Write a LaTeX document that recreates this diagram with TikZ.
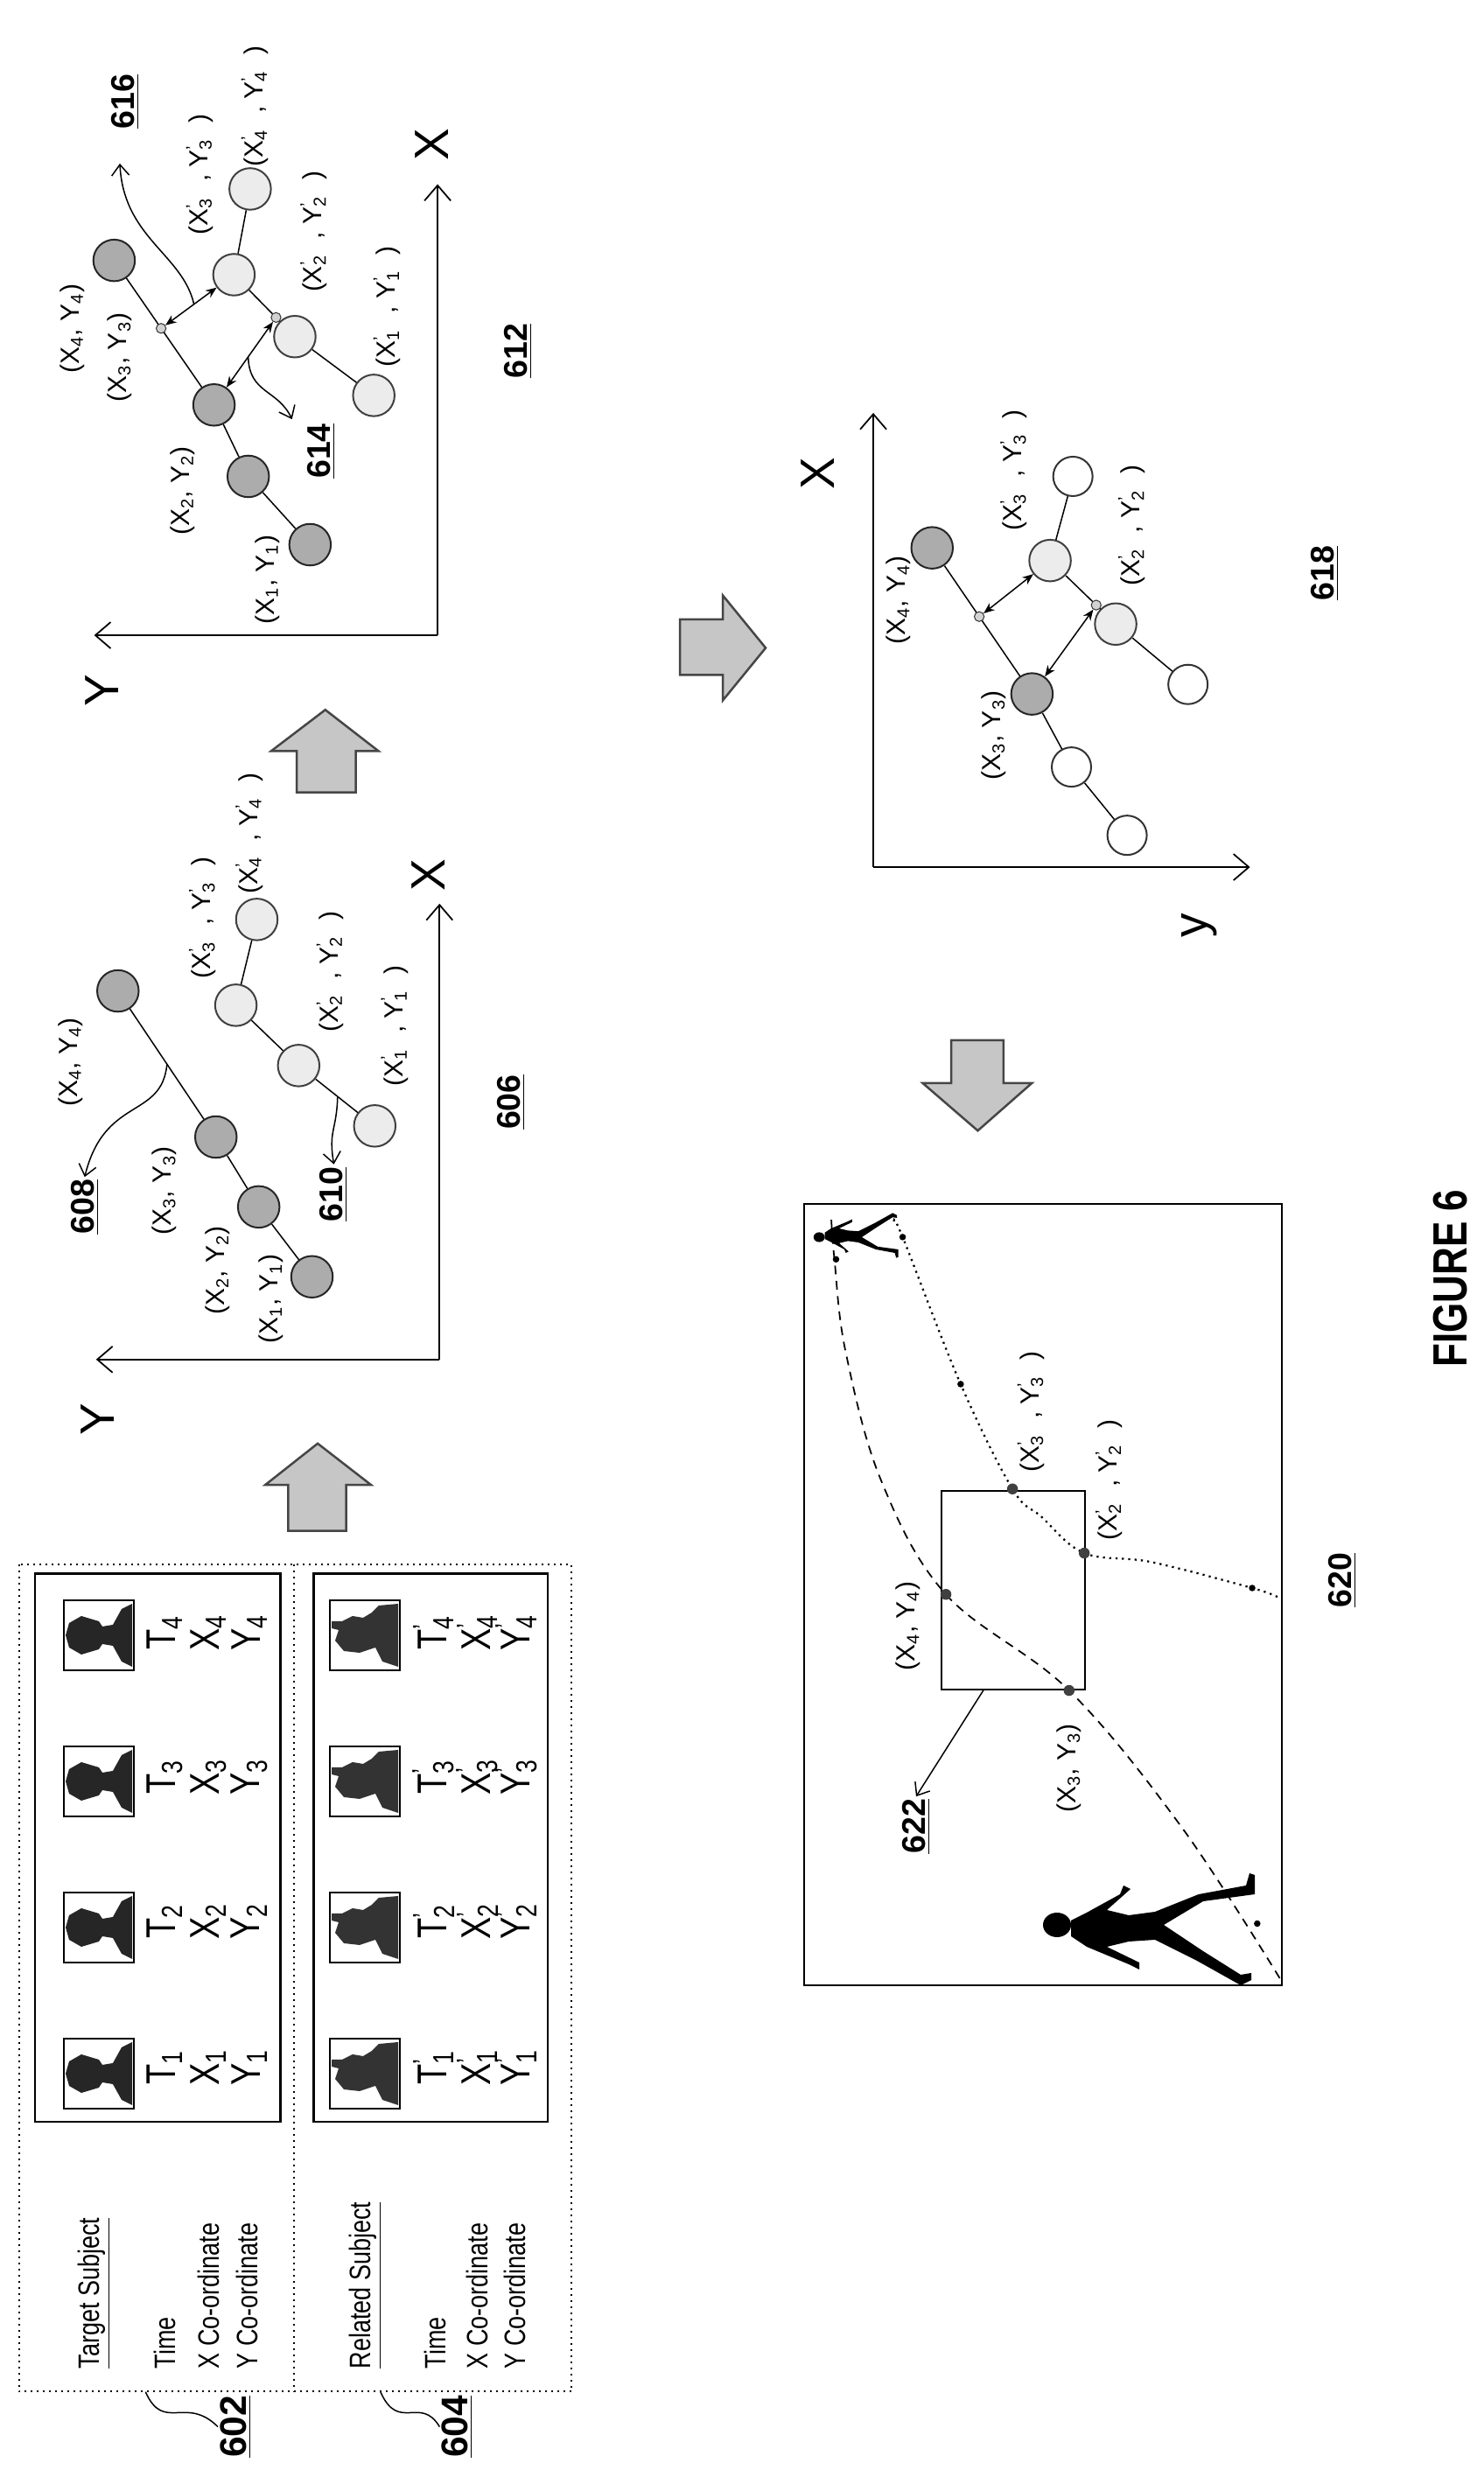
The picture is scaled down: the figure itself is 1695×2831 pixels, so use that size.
\documentclass[tikz,border=0pt]{standalone}
\usepackage{fontspec}
\setmainfont{Liberation Sans}
\newfontfamily\cond[FakeStretch=0.8]{Liberation Sans}
\usetikzlibrary{arrows.meta,calc}
\newcommand{\cpt}[1]{(X\textsubscript{#1}, Y\textsubscript{#1})}
\newcommand{\cpq}[1]{(X\rlap{\textsuperscript{’}}\textsubscript{#1}\,\, , Y\rlap{\textsuperscript{’}}\textsubscript{#1}\,\, )}
\begin{document}
\begin{tikzpicture}[x=0.4pt,y=0.4pt,
 lbl/.style={rotate=90,font=\fontsize{12}{12}\selectfont,inner sep=0pt},
 tbl/.style={rotate=90,font=\cond\fontsize{13.5}{13.5}\selectfont,inner sep=0pt,anchor=west},
 dat/.style={rotate=90,font=\cond\fontsize{19}{19}\selectfont,inner sep=0pt},
 num/.style={rotate=90,font=\bfseries\fontsize{15}{15}\selectfont,inner sep=1pt},
 axl/.style={rotate=90,font=\fontsize{22}{22}\selectfont,inner sep=0pt},
 dk/.style={circle,draw=black!85,fill=gray!65,minimum size=19pt,inner sep=0pt,line width=0.8pt},
 lt/.style={circle,draw=black!75,fill=gray!15,minimum size=19pt,inner sep=0pt,line width=0.8pt},
 wt/.style={circle,draw=black!80,fill=white,minimum size=18pt,inner sep=0pt,line width=0.8pt},
 sp/.style={circle,draw=black!80,fill=gray!35,minimum size=4.5pt,inner sep=0pt},
 dot/.style={circle,fill=black!75,minimum size=5pt,inner sep=0pt},
 sdot/.style={circle,fill=black,minimum size=3pt,inner sep=0pt},
 edge/.style={line width=0.6pt},
 dbl/.style={{Stealth[length=5pt,width=4pt]}-{Stealth[length=5pt,width=4pt]},line width=0.6pt},
 ptr/.style={-{Straight Barb[length=5pt,width=8pt]},line width=0.6pt},
 ax/.style={-{Straight Barb[length=7pt,width=12pt]},line width=0.7pt},
 blk/.style={fill=gray!45,draw=gray!55!black,line width=1pt},
 sil/.style={fill=black}]
\useasboundingbox (0,0) rectangle (1695,2831);
\fill[white] (0,0) rectangle (1695,2831);

% ---------- icons in table ----------
\foreach \oy in {1869,2036,2203,2370}{
 \begin{scope}[shift={(113,{2831-\oy})},rotate=90]
  \draw[line width=1pt] (-40,-40) rectangle (40,40);
  \fill[black!85] (-36,-38) -- (-30,-26) -- (-12,-16) -- (-10,-4) -- (-16,0) -- (-22,20) -- (-14,34) -- (0,38) -- (14,34) -- (22,20) -- (16,0) -- (10,-4) -- (12,-16) -- (30,-26) -- (36,-38) -- cycle;
 \end{scope}
 \begin{scope}[shift={(417,{2831-\oy})},rotate=90]
  \draw[line width=1pt] (-40,-40) rectangle (40,40);
  \fill[black!80] (-36,-38) -- (-30,-20) -- (-14,-12) -- (-20,6) -- (-18,24) -- (-6,34) -- (6,30) -- (8,38) -- (16,38) -- (16,26) -- (22,14) -- (20,2) -- (26,-8) -- (34,-16) -- (36,-38) -- cycle;
 \end{scope}
}

% ---------- walkers ----------
\begin{scope}[shift={(1430,626)},rotate=90]
 \fill[sil] (5,222) ellipse (14 and 16);
 \fill[sil] (-8,206) -- (10,206) -- (18,190) -- (40,150) -- (50,146) -- (46,138) -- (22,165) -- (16,140) -- (20,110) -- (40,60) -- (50,6) -- (64,2) -- (62,-4) -- (40,-4) -- (32,55) -- (5,100) -- (-25,55) -- (-52,12) -- (-50,0) -- (-58,0) -- (-64,12) -- (-36,62) -- (-12,110) -- (-14,140) -- (-20,165) -- (-38,128) -- (-46,128) -- (-40,140) -- (-20,188) -- cycle;
\end{scope}
\begin{scope}[shift={(1025,1419)},rotate=90,scale=0.4,xscale=-1]
 \fill[sil] (5,222) ellipse (14 and 16);
 \fill[sil] (-8,206) -- (10,206) -- (18,190) -- (40,150) -- (50,146) -- (46,138) -- (22,165) -- (16,140) -- (20,110) -- (40,60) -- (50,6) -- (64,2) -- (62,-4) -- (40,-4) -- (32,55) -- (5,100) -- (-25,55) -- (-52,12) -- (-50,0) -- (-58,0) -- (-64,12) -- (-36,62) -- (-12,110) -- (-14,140) -- (-20,165) -- (-38,128) -- (-46,128) -- (-40,140) -- (-20,188) -- cycle;
\end{scope}

\begin{scope}[shift={(0,2831)},xscale=1.087,yscale=-1.815]
% ---------- table ----------
\draw[dotted,line width=0.8pt] (20,985) rectangle (601,1506);
\draw[dotted,line width=0.8pt] (309,985) -- (309,1506);
\draw[line width=1pt] (37,991) rectangle (295,1336);
\draw[line width=1pt] (330,991) rectangle (576,1336);
\node[tbl] (ts) at (99,1492) {\underline{Target Subject}};
\node[tbl] (tt) at (173,1492) {Time};
\node[tbl] (tx) at (219,1492) {X Co-ordinate};
\node[tbl] (ty) at (260,1492) {Y Co-ordinate};
\node[tbl] (rs) at (384,1492) {\underline{Related Subject}};
\node[tbl] (rt) at (458,1492) {Time};
\node[tbl] (rx) at (502,1492) {X Co-ordinate};
\node[tbl] (ry) at (541,1492) {Y Co-ordinate};
\foreach \i/\yy in {1/1302,2/1210,3/1119,4/1028}{
 \node[dat] (T\i) at (173,\yy) {T\textsubscript{\i}};
 \node[dat] (X\i) at (219,\yy) {X\textsubscript{\i}};
 \node[dat] (Y\i) at (262,\yy) {Y\textsubscript{\i}};
 \node[dat] (Tp\i) at (456,\yy) {T\rlap{\textsuperscript{’}}\textsubscript{\i}};
 \node[dat] (Xp\i) at (502,\yy) {X\rlap{\textsuperscript{’}}\textsubscript{\i}};
 \node[dat] (Yp\i) at (543,\yy) {Y\rlap{\textsuperscript{’}}\textsubscript{\i}};
}
\node[num,font=\bfseries\fontsize{17}{17}\selectfont] (n602) at (248,1528) {\underline{602}};
\node[num,font=\bfseries\fontsize{17}{17}\selectfont] (n604) at (481,1528) {\underline{604}};
\coordinate (q1) at (153,1506);
\coordinate (q2) at (400,1506);
\draw[line width=0.6pt] (q1) .. controls (172,1532) and (195,1508) .. (n602.north);
\draw[line width=0.6pt] (q2) .. controls (419,1532) and (442,1508) .. (n604.north);

% ---------- block arrows ----------
\draw[blk] (303,964)--(303,935)--(279,935)--(334,909)--(390,935)--(364,935)--(364,964)--cycle;
\draw[blk] (312,499)--(312,473)--(285,473)--(342,447)--(398,473)--(374,473)--(374,499)--cycle;
\draw[blk] (715,390)--(760,390)--(760,375)--(805,408)--(760,441)--(760,425)--(715,425)--cycle;
\draw[blk] (1000,655)--(1000,682)--(970,682)--(1028,712)--(1085,682)--(1055,682)--(1055,655)--cycle;

% ---------- graph 606 ----------
\coordinate (o6) at (462,856);
\coordinate (y6) at (101,856);
\coordinate (x6) at (462,569);
\draw[ax] (o6) -- (y6);
\draw[ax] (o6) -- (x6);
\node[axl] (Y6) at (103,894) {Y};
\node[axl] (X6) at (450,551) {X};
\node[dk] (a1) at (328,804) {};
\node[dk] (a2) at (272,760) {};
\node[dk] (a3) at (227,716) {};
\node[dk] (a4) at (124,624) {};
\node[lt] (b1) at (394,709) {};
\node[lt] (b2) at (314,671) {};
\node[lt] (b3) at (248,633) {};
\node[lt] (b4) at (270,579) {};
\draw[edge] (a1)--(a2)--(a3)--(a4);
\draw[edge] (b1)--(b2)--(b3)--(b4);
\node[lbl] at (74,669) {\cpt{4}};
\node[lbl] at (173,750) {\cpt{3}};
\node[lbl] at (229,800) {\cpt{2}};
\node[lbl] at (285,818) {\cpt{1}};
\node[lbl] at (213,578) {\cpq{3}};
\node[lbl] at (262,525) {\cpq{4}};
\node[lbl] at (347,612) {\cpq{2}};
\node[lbl] at (415,646) {\cpq{1}};
\node[num] (n608) at (89,760) {\underline{608}};
\node[num] (n610) at (351,752) {\underline{610}};
\node[num] (n606) at (537,694) {\underline{606}};
\coordinate (m608) at ($(a3)!0.5!(a4)$);
\coordinate (m610) at ($(b2)!0.51!(b1)$);
\draw[ptr] (m608) .. controls (170,705) and (110,690) .. (n608.east);
\draw[ptr] (m610) .. controls (354,712) and (345,712) .. (n610.east);

% ---------- graph 612 ----------
\coordinate (o12) at (460,400);
\coordinate (y12) at (99,400);
\coordinate (x12) at (460,116);
\draw[ax] (o12) -- (y12);
\draw[ax] (o12) -- (x12);
\node[axl] (Y12) at (107,435) {Y};
\node[axl] (X12) at (454,91) {X};
\node[dk] (c1) at (326,343) {};
\node[dk] (c2) at (261,300) {};
\node[dk] (c3) at (225,255) {};
\node[dk] (c4) at (120,164) {};
\node[lt] (e1) at (393,249) {};
\node[lt] (e2) at (310,212) {};
\node[lt] (e3) at (246,173) {};
\node[lt] (e4) at (263,119) {};
\draw[edge] (c1)--(c2)--(c3)--(c4);
\draw[edge] (e1)--(e2)--(e3)--(e4);
\node[sp] (s1) at ($(c4)!0.47!(c3)$) {};
\node[sp] (s2) at ($(e3)!0.69!(e2)$) {};
\draw[dbl] (s1) -- (e3);
\draw[dbl] (s2) -- (c3);
\node[lbl] at (76,207) {\cpt{4}};
\node[lbl] at (126,225) {\cpt{3}};
\node[lbl] at (192,309) {\cpt{2}};
\node[lbl] at (281,365) {\cpt{1}};
\node[lbl] at (210,110) {\cpq{3}};
\node[lbl] at (268,67) {\cpq{4}};
\node[lbl] at (330,146) {\cpq{2}};
\node[lbl] at (407,193) {\cpq{1}};
\node[num] (n616) at (132,64) {\underline{616}};
\node[num] (n614) at (338,284) {\underline{614}};
\node[num] (n612) at (545,221) {\underline{612}};
\coordinate (m616) at ($(s1)!0.45!(e3)$);
\coordinate (m614) at ($(s2)!0.45!(c3)$);
\draw[ptr] (m616) .. controls (192,160) and (130,150) .. (126,103);
\draw[ptr] (m614) .. controls (262,248) and (292,245) .. (307,264);

% ---------- graph 618 ----------
\coordinate (o18) at (918,546);
\coordinate (x18) at (918,260);
\coordinate (y18) at (1314,546);
\draw[ax] (o18) -- (x18);
\draw[ax] (o18) -- (y18);
\node[axl] (X18) at (860,298) {X};
\node[axl] (Y18) at (1261,583) {y};
\node[dk] (f4) at (980,345) {};
\node[dk] (f3) at (1085,437) {};
\node[wt] (w1) at (1126.5,483) {};
\node[wt] (w0) at (1185,526) {};
\node[lt] (g3) at (1104,353) {};
\node[wt] (w4) at (1128,300) {};
\node[lt] (g2) at (1173,393) {};
\node[wt] (w2) at (1249,431) {};
\draw[edge] (f4)--(f3)--(w1)--(w0);
\draw[edge] (w4)--(g3)--(g2)--(w2);
\node[sp] (s3) at ($(f4)!0.47!(f3)$) {};
\node[sp] (s4) at ($(g3)!0.7!(g2)$) {};
\draw[dbl] (s3) -- (g3);
\draw[dbl] (s4) -- (f3);
\node[lbl] at (945,378) {\cpt{4}};
\node[lbl] at (1045,463) {\cpt{3}};
\node[lbl] at (1066,296) {\cpq{3}};
\node[lbl] at (1190,331) {\cpq{2}};
\node[num] (n618) at (1393,361) {\underline{618}};

% ---------- scene 620 ----------
\draw[line width=0.8pt] (845,758) rectangle (1348,1250);
\draw[line width=0.8pt] (990,939) rectangle (1141,1064);
\draw[dash pattern=on 4pt off 3pt,line width=0.7pt] plot[smooth,tension=0.6] coordinates {(1345.5,1245.7) (1242.6,1150.8) (1124,1064.5) (994.5,1004) (926,931.7) (889,851) (877.4,793.7) (874,767.7)};
\draw[dotted,line width=0.9pt] plot[smooth,tension=0.6] coordinates {(1343,1005.6) (1316.5,1000) (1211,983.7) (1140,978) (1094.7,955) (1064.5,937.6) (1010,871.6) (949,779) (940,770)};
\node[dot] (p33) at (1124,1064.5) {};
\node[dot] (p44) at (994.5,1004) {};
\node[dot] (q33) at (1064.5,937.6) {};
\node[dot] (q22) at (1140,978) {};
\node[sdot] (d1) at (1321.8,1211.3) {};
\node[sdot] (d2) at (879,793) {};
\node[sdot] (d3) at (1316.5,1000) {};
\node[sdot] (d4) at (1010,871.6) {};
\node[sdot] (d5) at (949,779) {};
\node[lbl] at (955,1024) {\cpt{4}};
\node[lbl] at (1124,1113.5) {\cpt{3}};
\node[lbl] at (1084,889) {\cpq{3}};
\node[lbl] at (1166,932) {\cpq{2}};
\node[num] (n622) at (963,1150) {\underline{622}};
\node[num] (n620) at (1411,995) {\underline{620}};
\coordinate (b622) at (1034,1064);
\draw[ptr] (b622) -- (n622.east);
\node[rotate=90,font=\cond\bfseries\fontsize{22}{22}\selectfont] (fig) at (1525,805) {FIGURE 6};
\end{scope}
\end{tikzpicture}
\end{document}
